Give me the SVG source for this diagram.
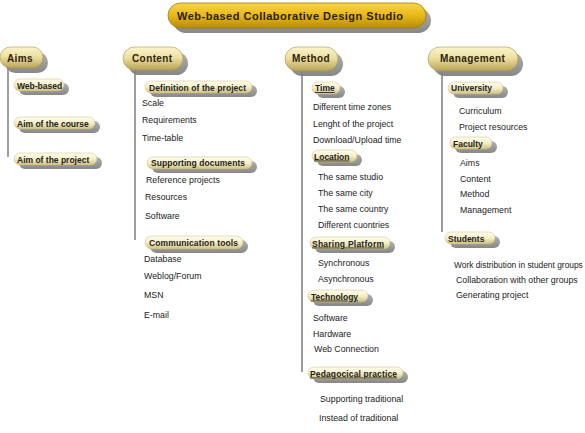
<svg xmlns="http://www.w3.org/2000/svg" width="585" height="433" viewBox="0 0 585 433">
<defs>
<linearGradient id="gTitle" x1="0" y1="0" x2="0" y2="1">
<stop offset="0" stop-color="#f7d548"/><stop offset="0.5" stop-color="#e8b818"/><stop offset="1" stop-color="#b88a08"/>
</linearGradient>
<linearGradient id="gHead" x1="0" y1="0" x2="0" y2="1">
<stop offset="0" stop-color="#faf4cc"/><stop offset="0.45" stop-color="#eee0a0"/><stop offset="1" stop-color="#b8a458"/>
</linearGradient>
<linearGradient id="gSub" x1="0" y1="0" x2="0" y2="1">
<stop offset="0" stop-color="#fffdf0"/><stop offset="0.5" stop-color="#f6efc6"/><stop offset="1" stop-color="#cfc080"/>
</linearGradient>
<linearGradient id="gShadow" x1="0" y1="0" x2="0" y2="1">
<stop offset="0" stop-color="#a8a8a8"/><stop offset="1" stop-color="#7a7a7a"/>
</linearGradient>
</defs>
<style>
.sh{fill:url(#gShadow);opacity:0.9}
.title{fill:url(#gTitle);stroke:#a07c10;stroke-width:0.8}
.head{fill:url(#gHead);stroke:#a89650;stroke-width:0.6}
.sub{fill:url(#gSub);stroke:#c8bb80;stroke-width:0.5}
.tt{font-family:"Liberation Sans",Arial,sans-serif;font-weight:bold;font-size:11px;fill:#2a2000}
.ht{font-family:"Liberation Sans",Arial,sans-serif;font-weight:bold;font-size:10px;fill:#2a2410;letter-spacing:0.4px}
.st{font-family:"Liberation Sans",Arial,sans-serif;font-weight:bold;font-size:8.5px;fill:#222}
.u{text-decoration:underline}
.it{font-family:"Liberation Sans",Arial,sans-serif;font-size:8.8px;fill:#222}
.ln{stroke:#6a6a6a;stroke-width:1.3;fill:none}
</style>

<g id="connectors">
<line class="ln" x1="8" y1="68" x2="8" y2="157"/>
<line class="ln" x1="135" y1="70" x2="135" y2="240"/>
<line class="ln" x1="302" y1="71" x2="302" y2="372"/>
<line class="ln" x1="442" y1="71" x2="442" y2="232"/>
</g>

<g id="title">
<rect class="sh" x="173" y="8" width="258" height="25" rx="12.5"/>
<rect class="title" x="168" y="3" width="258" height="25" rx="12.5"/>
<text class="tt" x="177" y="20" textLength="226">Web-based Collaborative Design Studio</text>
</g>

<!-- Aims -->
<g id="aims">
<rect class="sh" x="5" y="52" width="43" height="21" rx="10.5"/>
<rect class="head" x="0" y="47" width="43" height="21" rx="10.5"/>
<text class="ht" x="7" y="61.5">Aims</text>
</g>
<g id="aims-web">
<rect class="sh" x="19" y="83" width="50" height="12" rx="6"/>
<rect class="sub" x="14" y="79" width="50" height="12" rx="6"/>
<text class="st" x="17" y="88.5">Web-based</text>
</g>
<g id="aims-course">
<rect class="sh" x="19" y="121" width="81" height="12" rx="6"/>
<rect class="sub" x="14" y="117" width="81" height="12" rx="6"/>
<text class="st" x="17" y="126.5">Aim of the course</text>
</g>
<g id="aims-project">
<rect class="sh" x="19" y="157" width="83" height="12" rx="6"/>
<rect class="sub" x="14" y="153" width="83" height="12" rx="6"/>
<text class="st" x="17" y="162.5">Aim of the project</text>
</g>

<!-- Content -->
<g id="content">
<rect class="sh" x="128" y="52" width="60" height="23" rx="11.5"/>
<rect class="head" x="123" y="47" width="60" height="23" rx="11.5"/>
<text class="ht" x="132" y="62">Content</text>
</g>
<g id="content-def">
<rect class="sh" x="150" y="85" width="107" height="12" rx="6"/>
<rect class="sub" x="145" y="81" width="107" height="12" rx="6"/>
<text class="st" x="149" y="90.5" textLength="97">Definition of the project</text>
</g>
<g id="content-def-items">
<text class="it" x="142" y="106">Scale</text>
<text class="it" x="142" y="123">Requirements</text>
<text class="it" x="142" y="141">Time-table</text>
</g>
<g id="content-sup">
<rect class="sh" x="152" y="161" width="105" height="12" rx="6"/>
<rect class="sub" x="147" y="157" width="105" height="12" rx="6"/>
<text class="st" x="151" y="166" textLength="94">Supporting documents</text>
</g>
<g id="content-sup-items">
<text class="it" x="146" y="183">Reference projects</text>
<text class="it" x="145" y="200">Resources</text>
<text class="it" x="145" y="219">Software</text>
</g>
<g id="content-comm">
<rect class="sh" x="150" y="240" width="98" height="13" rx="6.5"/>
<rect class="sub" x="145" y="236" width="98" height="13" rx="6.5"/>
<text class="st" x="149" y="246" textLength="89">Communication tools</text>
</g>
<g id="content-comm-items">
<text class="it" x="144" y="262">Database</text>
<text class="it" x="144" y="279">Weblog/Forum</text>
<text class="it" x="144" y="298">MSN</text>
<text class="it" x="144" y="318">E-mail</text>
</g>

<!-- Method -->
<g id="method">
<rect class="sh" x="290" y="52" width="53" height="24" rx="12"/>
<rect class="head" x="285" y="47" width="53" height="24" rx="12"/>
<text class="ht" x="292" y="62">Method</text>
</g>
<g id="method-time">
<rect class="sh" x="317" y="86" width="28" height="12" rx="6"/>
<rect class="sub" x="312" y="82" width="28" height="12" rx="6"/>
<text class="st u" x="315" y="91">Time</text>
</g>
<g id="method-time-items">
<text class="it" x="313" y="110">Different time zones</text>
<text class="it" x="313" y="127">Lenght of the project</text>
<text class="it" x="313" y="143">Download/Upload time</text>
</g>
<g id="method-loc">
<rect class="sh" x="317" y="154" width="45" height="12" rx="6"/>
<rect class="sub" x="312" y="150" width="45" height="12" rx="6"/>
<text class="st u" x="314" y="159.5">Location</text>
</g>
<g id="method-loc-items">
<text class="it" x="318" y="180">The same studio</text>
<text class="it" x="318" y="196">The same city</text>
<text class="it" x="318" y="212">The same country</text>
<text class="it" x="318" y="228">Different cuontries</text>
</g>
<g id="method-share">
<rect class="sh" x="315" y="241" width="80" height="12" rx="6"/>
<rect class="sub" x="310" y="237" width="80" height="12" rx="6"/>
<text class="st u" x="312" y="246.5" textLength="72">Sharing Platform</text>
</g>
<g id="method-share-items">
<text class="it" x="318" y="266">Synchronous</text>
<text class="it" x="318" y="282">Asynchronous</text>
</g>
<g id="method-tech">
<rect class="sh" x="313" y="294" width="60" height="12" rx="6"/>
<rect class="sub" x="308" y="290" width="60" height="12" rx="6"/>
<text class="st u" x="311" y="299.5">Technology</text>
</g>
<g id="method-tech-items">
<text class="it" x="313" y="321">Software</text>
<text class="it" x="313" y="337">Hardware</text>
<text class="it" x="314" y="352">Web Connection</text>
</g>
<g id="method-ped">
<rect class="sh" x="313" y="371" width="95" height="12" rx="6"/>
<rect class="sub" x="308" y="367" width="95" height="12" rx="6"/>
<text class="st u" x="310" y="376.5" textLength="87">Pedagocical practice</text>
</g>
<g id="method-ped-items">
<text class="it" x="320" y="402">Supporting traditional</text>
<text class="it" x="319" y="421">Instead of traditional</text>
</g>

<!-- Management -->
<g id="management">
<rect class="sh" x="433" y="52" width="90" height="24" rx="12"/>
<rect class="head" x="428" y="47" width="90" height="24" rx="12"/>
<text class="ht" x="440" y="62">Management</text>
</g>
<g id="mgmt-univ">
<rect class="sh" x="453" y="86" width="55" height="12" rx="6"/>
<rect class="sub" x="448" y="82" width="55" height="12" rx="6"/>
<text class="st" x="451" y="91">University</text>
</g>
<g id="mgmt-univ-items">
<text class="it" x="459" y="114">Curriculum</text>
<text class="it" x="459" y="130">Project resources</text>
</g>
<g id="mgmt-fac">
<rect class="sh" x="455" y="141" width="42" height="12" rx="6"/>
<rect class="sub" x="450" y="137" width="42" height="12" rx="6"/>
<text class="st" x="453" y="146.5">Faculty</text>
</g>
<g id="mgmt-fac-items">
<text class="it" x="460" y="166">Aims</text>
<text class="it" x="460" y="182">Content</text>
<text class="it" x="460" y="197">Method</text>
<text class="it" x="460" y="213">Management</text>
</g>
<g id="mgmt-stud">
<rect class="sh" x="450" y="236" width="50" height="12" rx="6"/>
<rect class="sub" x="445" y="232" width="50" height="12" rx="6"/>
<text class="st" x="448" y="241.5">Students</text>
</g>
<g id="mgmt-stud-items">
<text class="it" x="454" y="268" style="font-size:8.4px">Work distribution in student groups</text>
<text class="it" x="456" y="283">Collaboration with other groups</text>
<text class="it" x="456" y="298">Generating project</text>
</g>
</svg>
